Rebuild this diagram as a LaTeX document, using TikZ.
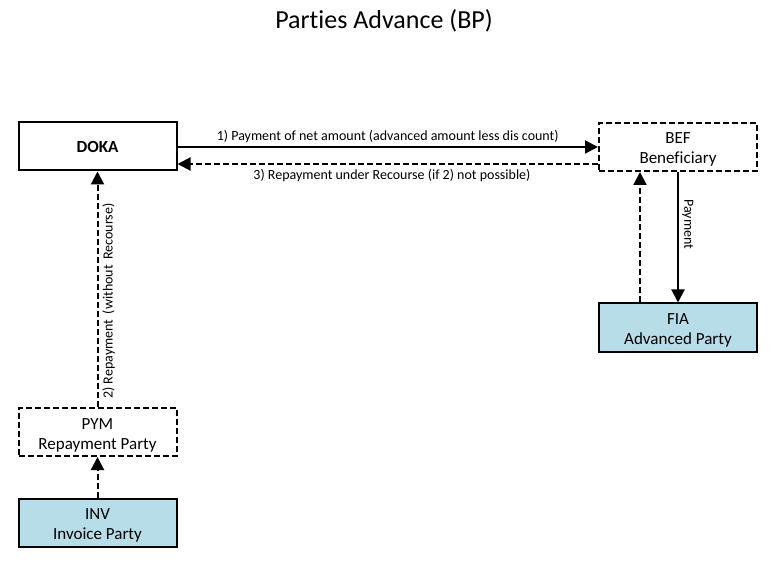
\documentclass[tikz,border=0pt]{standalone}
\usepackage{fontspec}
\setmainfont[Ligatures=CommonOff]{Carlito}
\usetikzlibrary{arrows.meta}
\definecolor{boxblue}{RGB}{183,221,232}
\newcommand{\twolines}[2]{\raisebox{-3pt}[\height][\depth]{\begin{tabular}{@{}c@{}}#1\\#2\end{tabular}}}
\tikzset{
  box/.style={draw, line width=2pt, minimum width=158pt, minimum height=48pt, inner sep=0pt, font=\fontsize{17}{20}\selectfont},
  dbox/.style={box, dash pattern=on 6pt off 3pt},
  fbox/.style={box, fill=boxblue},
  conn/.style={line width=2pt, -{Triangle[length=13pt,width=13pt]}},
  dconn/.style={conn, dash pattern=on 6pt off 3pt},
  lbl/.style={font=\fontsize{14}{16}\selectfont, inner sep=1pt}
}
\begin{document}
\begin{tikzpicture}[x=1pt,y=-1pt]
\useasboundingbox (0,0) rectangle (769,564);
\node[font=\fontsize{26}{30}\selectfont] (title) at (384,21) {Parties Advance (BP)};
\node[box, font=\fontsize{17}{20}\selectfont\bfseries] (doka) at (97.5,146.5) {DOKA};
\node[dbox] (bef) at (678,147) {\twolines{BEF}{Beneficiary}};
\node[fbox] (fia) at (678,327.5) {\twolines{FIA}{Advanced Party}};
\node[dbox] (pym) at (97.5,432) {\twolines{PYM}{Repayment Party}};
\node[fbox] (inv) at (97.5,522.5) {\twolines{INV}{Invoice Party}};

\draw[conn] (doka.east |- 0,147) -- (bef.west |- 0,147)
  node[lbl, midway, above=2.5pt] {1) Payment of net amount (advanced amount less dis count)};
\draw[dconn] (bef.west |- 0,164) -- (doka.east |- 0,164)
  node[lbl, pos=0.49, below=3pt] {3) Repayment under Recourse (if 2) not possible)};
\draw[dconn] (fia.north -| 640,0) -- (bef.south -| 640,0);
\draw[conn] (bef.south) -- (fia.north)
  node[lbl, pos=0.4, rotate=-90, anchor=south, yshift=2pt] {Payment};
\draw[dconn] (pym.north) -- (doka.south)
  node[lbl, pos=0.45, rotate=90, anchor=north, yshift=-3pt] {2) Repayment\, (without\, Recourse)};
\draw[dconn] (inv.north) -- (pym.south);
\end{tikzpicture}
\end{document}
